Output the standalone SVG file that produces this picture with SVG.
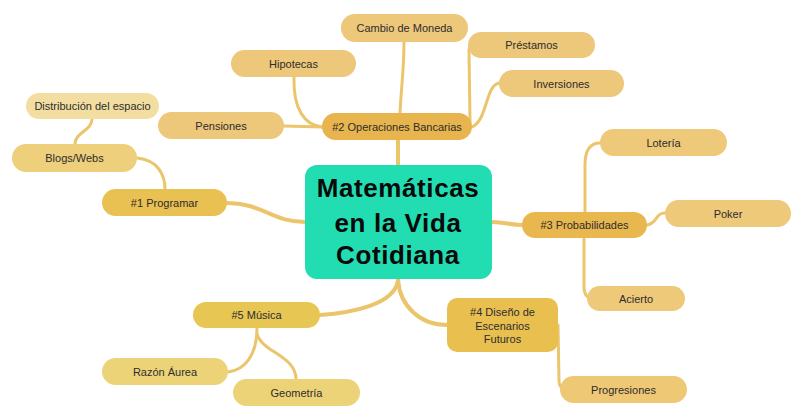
<svg xmlns="http://www.w3.org/2000/svg" width="800" height="420" viewBox="0 0 800 420">
<style>
.t{font-family:"Liberation Sans",Arial,sans-serif;font-size:11px;fill:#2d2d2d;text-anchor:middle}
.c{fill:none;stroke:#EBC56C;stroke-linecap:round}
.m{stroke-width:4}
.s{stroke-width:3}
.ct{font-family:"Liberation Sans",Arial,sans-serif;font-size:26px;font-weight:bold;fill:#0a0a0a;text-anchor:middle;letter-spacing:0.6px}
</style>
<rect width="800" height="420" fill="#ffffff"/>
<g id="connectors">
<path class="c m" d="M398,165 L398,140"/>
<path class="c s" d="M400,113 C401,90 404,70 404,42"/>
<path class="c s" d="M322,127 C305,125 293,110 294,77"/>
<path class="c s" d="M284,126 L322,127"/>
<path class="c s" d="M470,122 L469,50 Q469,45 474,45"/>
<path class="c s" d="M472,127 C488,120 485,84 500,83"/>
<path class="c s" d="M92,119 C92,131 75,132 75,144"/>
<path class="c s" d="M137,158 C158,160 165,175 165,189"/>
<path class="c m" d="M227,203 C262,203 272,222 305,222"/>
<path class="c m" d="M492,222 C505,222 510,225 522,225"/>
<path class="c s" d="M585,212 L585,165 C585,150 590,143 600,143"/>
<path class="c s" d="M647,225 C658,223 655,213 665,213"/>
<path class="c s" d="M584,238 L584,287 C584,295 588,298 591,298"/>
<path class="c m" d="M398,280 C400,306 420,325 447,325"/>
<path class="c m" d="M398,280 C395,305 350,313 320,315"/>
<path class="c s" d="M558,325 L559,381 C559,387 563,390 566,390"/>
<path class="c s" d="M257,328 C257,355 245,370 228,372"/>
<path class="c s" d="M257,334 C262,352 296,356 296,379"/>
</g>
<g id="center">
<rect x="305" y="165" width="187" height="114" rx="12" fill="#22DDB2"/>
<text class="ct" x="398" y="197">Matemáticas</text>
<text class="ct" x="398" y="232">en la Vida</text>
<text class="ct" x="398" y="264">Cotidiana</text>
</g>
<g id="n2">
<rect x="322" y="113" width="150" height="27" rx="13.5" fill="#E7B44E"/>
<text class="t" x="397" y="130.5">#2 Operaciones Bancarias</text>
</g>
<g id="cambio">
<rect x="341" y="14" width="127" height="28" rx="14" fill="#EDC77A"/>
<text class="t" x="404.5" y="32">Cambio de Moneda</text>
</g>
<g id="hipotecas">
<rect x="231" y="50" width="125" height="27" rx="13.5" fill="#EDC77A"/>
<text class="t" x="293.5" y="67.5">Hipotecas</text>
</g>
<g id="pensiones">
<rect x="158" y="112" width="126" height="27" rx="13.5" fill="#EDC77A"/>
<text class="t" x="221" y="129.5">Pensiones</text>
</g>
<g id="prestamos">
<rect x="468" y="32" width="127" height="26" rx="13" fill="#EDC77A"/>
<text class="t" x="531.5" y="49">Préstamos</text>
</g>
<g id="inversiones">
<rect x="499" y="70" width="125" height="27" rx="13.5" fill="#EDC77A"/>
<text class="t" x="561.5" y="87.5">Inversiones</text>
</g>
<g id="n1">
<rect x="102" y="189" width="125" height="27" rx="13.5" fill="#E9C052"/>
<text class="t" x="164.5" y="206.5">#1 Programar</text>
</g>
<g id="blogs">
<rect x="12" y="144" width="125" height="28" rx="14" fill="#EECF7C"/>
<text class="t" x="74.5" y="162">Blogs/Webs</text>
</g>
<g id="distribucion">
<rect x="26" y="93" width="133" height="26" rx="13" fill="#F3DEA2"/>
<text class="t" x="92.5" y="110">Distribución del espacio</text>
</g>
<g id="n3">
<rect x="522" y="212" width="125" height="26" rx="13" fill="#E8B84F"/>
<text class="t" x="584.5" y="229">#3 Probabilidades</text>
</g>
<g id="loteria">
<rect x="600" y="129" width="127" height="27" rx="13.5" fill="#EEC97A"/>
<text class="t" x="663.5" y="146.5">Lotería</text>
</g>
<g id="poker">
<rect x="665" y="200" width="126" height="27" rx="13.5" fill="#EEC97A"/>
<text class="t" x="728" y="217.5">Poker</text>
</g>
<g id="acierto">
<rect x="587" y="286" width="98" height="25" rx="12.5" fill="#EEC97A"/>
<text class="t" x="636" y="302.5">Acierto</text>
</g>
<g id="n4">
<rect x="447" y="298" width="111" height="54" rx="10" fill="#E9C04F"/>
<text class="t" x="502.5" y="316">#4 Diseño de</text>
<text class="t" x="502.5" y="330">Escenarios</text>
<text class="t" x="502.5" y="343">Futuros</text>
</g>
<g id="progresiones">
<rect x="560" y="376" width="127" height="27" rx="13.5" fill="#EEC874"/>
<text class="t" x="623.5" y="393.5">Progresiones</text>
</g>
<g id="n5">
<rect x="193" y="302" width="127" height="26" rx="13" fill="#E8C654"/>
<text class="t" x="256.5" y="319">#5 Música</text>
</g>
<g id="razon">
<rect x="102" y="358" width="126" height="27" rx="13.5" fill="#EDD378"/>
<text class="t" x="165" y="375.5">Razón Áurea</text>
</g>
<g id="geometria">
<rect x="233" y="379" width="127" height="27" rx="13.5" fill="#EDD378"/>
<text class="t" x="296.5" y="396.5">Geometría</text>
</g>
</svg>
